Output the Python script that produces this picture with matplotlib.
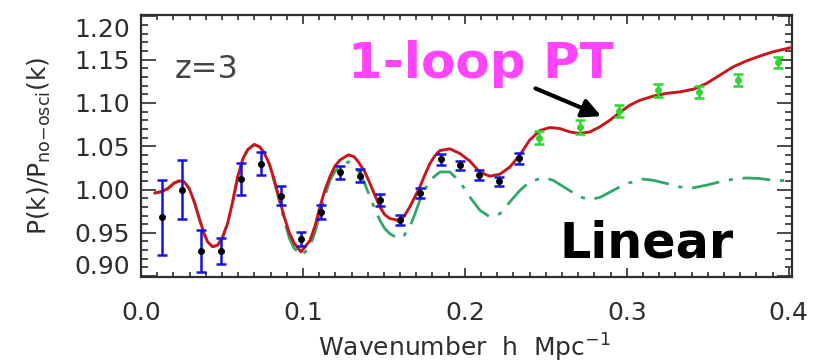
import matplotlib.pyplot as plt
from matplotlib.ticker import MultipleLocator
from matplotlib.transforms import ScaledTranslation

# 1-loop PT prediction (solid red)
k_pt = [0.0086, 0.0125, 0.0165, 0.0205, 0.0237, 0.0267, 0.0298, 0.0329, 0.036,
        0.039, 0.0412, 0.0442, 0.0473, 0.0504, 0.0535, 0.0566, 0.0597, 0.0630,
        0.0659, 0.0700, 0.0735, 0.0761, 0.0792, 0.0823, 0.0855, 0.0885, 0.0916,
        0.0946, 0.0988, 0.1043, 0.1075, 0.1105, 0.1135, 0.1167, 0.1198, 0.1228,
        0.128, 0.1315, 0.1342, 0.1380, 0.1414, 0.1445, 0.1475, 0.1505, 0.1537,
        0.1588, 0.1625, 0.166, 0.1690, 0.1722, 0.1753, 0.1784, 0.1815, 0.1846,
        0.1907, 0.1969, 0.203, 0.2093, 0.2154, 0.2216, 0.2278, 0.234, 0.240,
        0.2463, 0.2525, 0.2586, 0.2648, 0.271, 0.2772, 0.2833, 0.2895, 0.2957,
        0.3019, 0.308, 0.3162, 0.3245, 0.3327, 0.341, 0.3492, 0.3574, 0.3656,
        0.3739, 0.382, 0.3903, 0.4017]
p_pt = [0.996, 0.9975, 1.001, 1.0075, 1.010, 1.0088, 1.001, 0.9857, 0.9665,
        0.949, 0.9395, 0.934, 0.9357, 0.945, 0.961, 0.9857, 1.0146, 1.036,
        1.046, 1.052, 1.049, 1.042, 1.030, 1.011, 0.989, 0.968, 0.950,
        0.938, 0.928, 0.941, 0.958, 0.980, 0.999, 1.015, 1.027, 1.034,
        1.040, 1.038, 1.032, 1.021, 1.007, 0.993, 0.980, 0.971, 0.9665,
        0.9645, 0.969, 0.980, 0.991, 1.003, 1.017, 1.030, 1.039, 1.045,
        1.047, 1.0416, 1.033, 1.020, 1.0154, 1.0177, 1.026, 1.040, 1.057,
        1.068, 1.0716, 1.0704, 1.0665, 1.0647, 1.0665, 1.0723, 1.080, 1.089,
        1.0974, 1.103, 1.1078, 1.111, 1.1127, 1.1158, 1.1224, 1.132, 1.1416,
        1.1485, 1.154, 1.159, 1.164]

# linear theory (green dash-dot)
k_lin = [0.0086, 0.0125, 0.0165, 0.0205, 0.0237, 0.0267, 0.0298, 0.0329, 0.036,
         0.039, 0.0412, 0.0442, 0.0473, 0.0504, 0.0535, 0.0566, 0.0597, 0.0630,
         0.0659, 0.0700, 0.0735, 0.0761, 0.0792, 0.0823, 0.0855, 0.0885, 0.0916,
         0.0946, 0.0995, 0.1043, 0.1075, 0.1105, 0.1135, 0.1167, 0.1198, 0.1228,
         0.128, 0.1315, 0.1352, 0.1385, 0.1414, 0.1445, 0.1475, 0.1505, 0.1537,
         0.1588, 0.1625, 0.166, 0.1690, 0.1722, 0.1753, 0.1784, 0.1846, 0.1907,
         0.1969, 0.203, 0.2093, 0.2154, 0.2216, 0.2278, 0.234, 0.240, 0.2484,
         0.2545, 0.2628, 0.271, 0.2772, 0.2833, 0.2916, 0.2998, 0.304, 0.310,
         0.3162, 0.3245, 0.3327, 0.341, 0.3492, 0.3574, 0.3656, 0.3739, 0.382,
         0.3903, 0.4017]
p_lin = [0.996, 0.9975, 1.001, 1.0075, 1.010, 1.0088, 1.001, 0.9857, 0.9665,
         0.949, 0.9395, 0.934, 0.9357, 0.945, 0.961, 0.9857, 1.0146, 1.036,
         1.046, 1.052, 1.049, 1.042, 1.029, 1.009, 0.986, 0.964, 0.944,
         0.932, 0.924, 0.934, 0.951, 0.972, 0.992, 1.0107, 1.021, 1.026,
         1.032, 1.029, 1.0185, 1.005, 0.9915, 0.977, 0.9645, 0.955, 0.949,
         0.9434, 0.947, 0.957, 0.971, 0.9876, 1.000, 1.0107, 1.0203, 1.0203,
         1.009, 0.9915, 0.976, 0.9684, 0.972, 0.9857, 0.999, 1.0088, 1.0139,
         1.0107, 1.001, 0.9915, 0.9885, 0.9908, 0.999, 1.007, 1.0088, 1.012,
         1.0107, 1.007, 1.003, 1.002, 1.005, 1.0088, 1.012, 1.0134, 1.0127,
         1.0107, 1.010]

# measured ratio, low-k bins (blue error bars)
k_lo = [0.0128, 0.0251, 0.0372, 0.0494, 0.0617, 0.0741, 0.0864, 0.0988, 0.1110,
        0.1230, 0.1352, 0.1475, 0.1600, 0.1720, 0.1850, 0.1970, 0.2090, 0.2210,
        0.2335]
p_lo = [0.968, 1.000, 0.929, 0.929, 1.012, 1.030, 0.993, 0.943, 0.974,
        1.020, 1.016, 0.988, 0.9645, 0.996, 1.035, 1.028, 1.017, 1.0096,
        1.036]
e_lo = [0.0435, 0.034, 0.0246, 0.0154, 0.0187, 0.0129, 0.011, 0.0085, 0.0083,
        0.0077, 0.0077, 0.0071, 0.0058, 0.0058, 0.0063, 0.0054, 0.0058, 0.0054,
        0.0062]

# measured ratio, high-k bins (green error bars)
k_hi = [0.2457, 0.2710, 0.2950, 0.3193, 0.3443, 0.3687, 0.3934]
p_hi = [1.060, 1.0723, 1.0908, 1.1147, 1.1124, 1.1262, 1.1467]
e_hi = [0.0073, 0.0077, 0.0071, 0.0077, 0.0071, 0.0067, 0.0067]

yticks = [0.90, 0.95, 1.00, 1.05, 1.10, 1.15, 1.20]
xticks = [0.0, 0.1, 0.2, 0.3, 0.4]

plt.rcParams['font.family'] = ['DejaVu Sans']
ink = '#2e2e2e'

fig = plt.figure(figsize=(8.17, 3.63), dpi=100)
ax = fig.add_axes([141 / 817, 1 - 277 / 363, 651 / 817, 262 / 363])

ax.plot(k_lin, p_lin, color='#2fa868', lw=2.0, dashes=(10, 3.5, 1.5, 3.5), zorder=2)
ax.plot(k_pt, p_pt, color='#c8161c', lw=2.1, zorder=3)

ax.errorbar(k_lo, p_lo, yerr=e_lo, fmt='o', color='black', ms=4,
            ecolor='#1414e0', elinewidth=1.8, capsize=3.5, capthick=1.8, zorder=4)
ax.errorbar(k_hi, p_hi, yerr=e_hi, fmt='o', color='#2bd82b', ms=4,
            ecolor='#2bd82b', elinewidth=1.8, capsize=3.5, capthick=1.8, zorder=4)

ax.set_xlim(0, 0.402)
ax.set_ylim(0.899, 1.2015)
ax.set_xticks(xticks)
ax.set_xticklabels(['%.1f' % t for t in xticks])
ax.set_yticks(yticks)
ax.set_yticklabels(['%.2f' % t for t in yticks])
ax.xaxis.set_minor_locator(MultipleLocator(0.01))
ax.yaxis.set_minor_locator(MultipleLocator(0.01))

ax.tick_params(axis='both', which='both', direction='in', color=ink, width=1.2,
               labelcolor=ink, labelsize=18)
ax.tick_params(axis='x', which='major', length=6.5, pad=17, top=True)
ax.tick_params(axis='x', which='minor', length=3.5, top=True)
ax.tick_params(axis='y', which='major', length=11, pad=8, right=True)
ax.tick_params(axis='y', which='minor', length=5, right=True)
for s in ax.spines.values():
    s.set_linewidth(1.6)
    s.set_color(ink)

# the end labels sit a little inside the frame
ylabs = ax.get_yticklabels()
ylabs[0].set_transform(ylabs[0].get_transform() + ScaledTranslation(0, 0.12, fig.dpi_scale_trans))
ylabs[-1].set_transform(ylabs[-1].get_transform() + ScaledTranslation(0, -0.11, fig.dpi_scale_trans))

ax.set_xlabel(r'Wavenumber  h  Mpc$^{-1}$', fontsize=18, color=ink)
ax.set_ylabel(r'P(k)/P$_{\mathregular{no{-}osci}}$(k)', fontsize=18, color=ink)
ax.xaxis.set_label_coords(0.497, -0.21)
ax.yaxis.set_label_coords(-0.135, 0.5)

ax.text(0.052, 0.76, 'z=3', transform=ax.transAxes, fontsize=23, color='#444444',
        va='baseline', ha='left')
ax.text(0.318, 0.7595, '1-loop PT', transform=ax.transAxes, fontsize=36,
        fontweight='bold', color='#ff44ff', va='baseline', ha='left')
ax.text(0.6436, 0.0763, 'Linear', transform=ax.transAxes, fontsize=35.5,
        fontweight='bold', color='black', va='baseline', ha='left')
ax.annotate('', xy=(0.2858, 1.0835), xytext=(0.242, 1.118),
            arrowprops=dict(arrowstyle='-|>', lw=3, color='black', mutation_scale=28))

fig.savefig('out.png', dpi=100)
